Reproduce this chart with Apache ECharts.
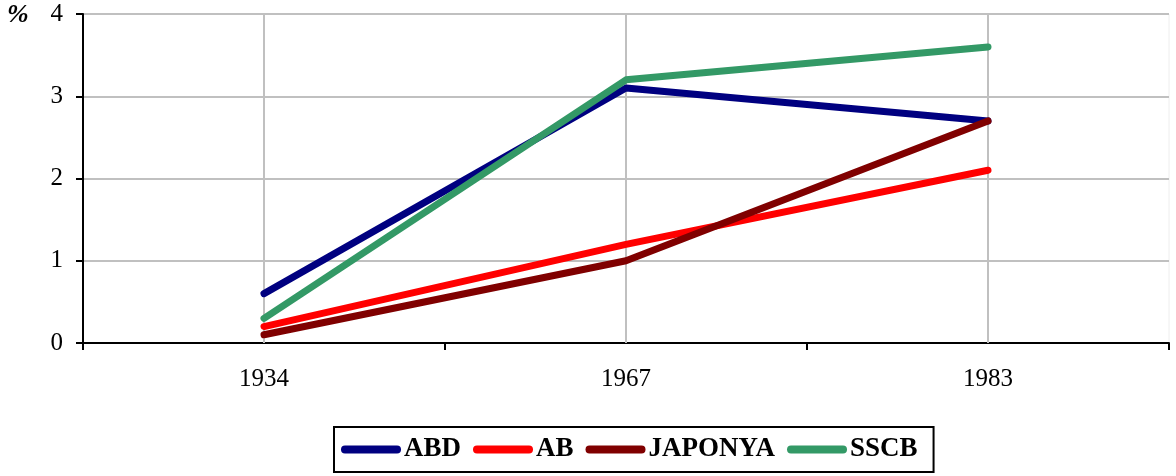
<!DOCTYPE html>
<html>
<head>
<meta charset="utf-8">
<script src="https://cdn.jsdelivr.net/npm/echarts@6/dist/echarts.min.js"></script>
<style>
	html,body{margin:0;padding:0;background:#fff;}
	#main{width:1176px;height:476px;}
</style>
</head>
<body>
<div id="main"></div>
<script>
	var years=['1934','1967','1983'];
	var abd=[0.6,3.1,2.7];
	var ab=[0.2,1.2,2.1];
	var japonya=[0.1,1.0,2.7];
	var sscb=[0.3,3.2,3.6];
	var yTicks=[0,1,2,3,4];

	var chart=echarts.init(document.getElementById('main'));
	var serif='Liberation Serif, Times New Roman, serif';
	var lineIcon='path://M4,0 H56 A4,4 0 0 1 56,8 H4 A4,4 0 0 1 4,0 Z';

	function mkSeries(name,color,data,withGrid)
	{
		var s={
			name:name,
			type:'line',
			data:data,
			symbol:'none',
			lineStyle:{color:color,width:7,cap:'round',join:'round'},
			itemStyle:{color:color},
			z:3
		};
		if(withGrid)
		{
			// vertical grid lines sit on the categories, not on the ticks
			s.markLine={
				silent:true,
				symbol:'none',
				label:{show:false},
				lineStyle:{color:'#c0c0c0',width:2,type:'solid'},
				z:1,
				data:years.map(function(y){return {xAxis:y};})
			};
		}
		return s;
	}

	var option={
		animation:false,
		backgroundColor:'#fff',
		grid:{left:83,right:7,top:14,bottom:133,show:true,borderColor:'#eeeeee',borderWidth:1},
		legend:{
			bottom:4,
			left:334,
			icon:lineIcon,
			itemWidth:60,
			itemHeight:8,
			itemGap:12,
			borderColor:'#000',
			borderWidth:2,
			padding:[9,16,9,7],
			textStyle:{fontFamily:serif,fontWeight:'bold',fontSize:27,color:'#000',padding:[0,0,0,-2]},
			data:['ABD','AB','JAPONYA','SSCB']
		},
		xAxis:{
			type:'category',
			data:years,
			boundaryGap:true,
			axisLine:{lineStyle:{color:'#000',width:2}},
			axisTick:{show:true,length:7,inside:false,lineStyle:{color:'#000',width:2}},
			axisLabel:{fontFamily:serif,fontSize:25,color:'#000',margin:24},
			splitLine:{show:false}
		},
		yAxis:{
			type:'value',
			min:yTicks[0],
			max:yTicks[yTicks.length-1],
			interval:1,
			axisLine:{show:true,lineStyle:{color:'#000',width:2}},
			axisTick:{show:true,length:7,lineStyle:{color:'#000',width:2}},
			axisLabel:{fontFamily:serif,fontSize:25,color:'#000',margin:20},
			splitLine:{show:true,lineStyle:{color:'#c0c0c0',width:2}}
		},
		graphic:[{
			type:'text',
			left:7,
			top:2,
			style:{text:'%',font:'italic bold 26px '+serif,fill:'#000'}
		}],
		series:[
			mkSeries('ABD','#000080',abd,true),
			mkSeries('AB','#ff0000',ab,false),
			mkSeries('JAPONYA','#800000',japonya,false),
			mkSeries('SSCB','#339966',sscb,false)
		]
	};
	chart.setOption(option);
</script>
</body>
</html>
